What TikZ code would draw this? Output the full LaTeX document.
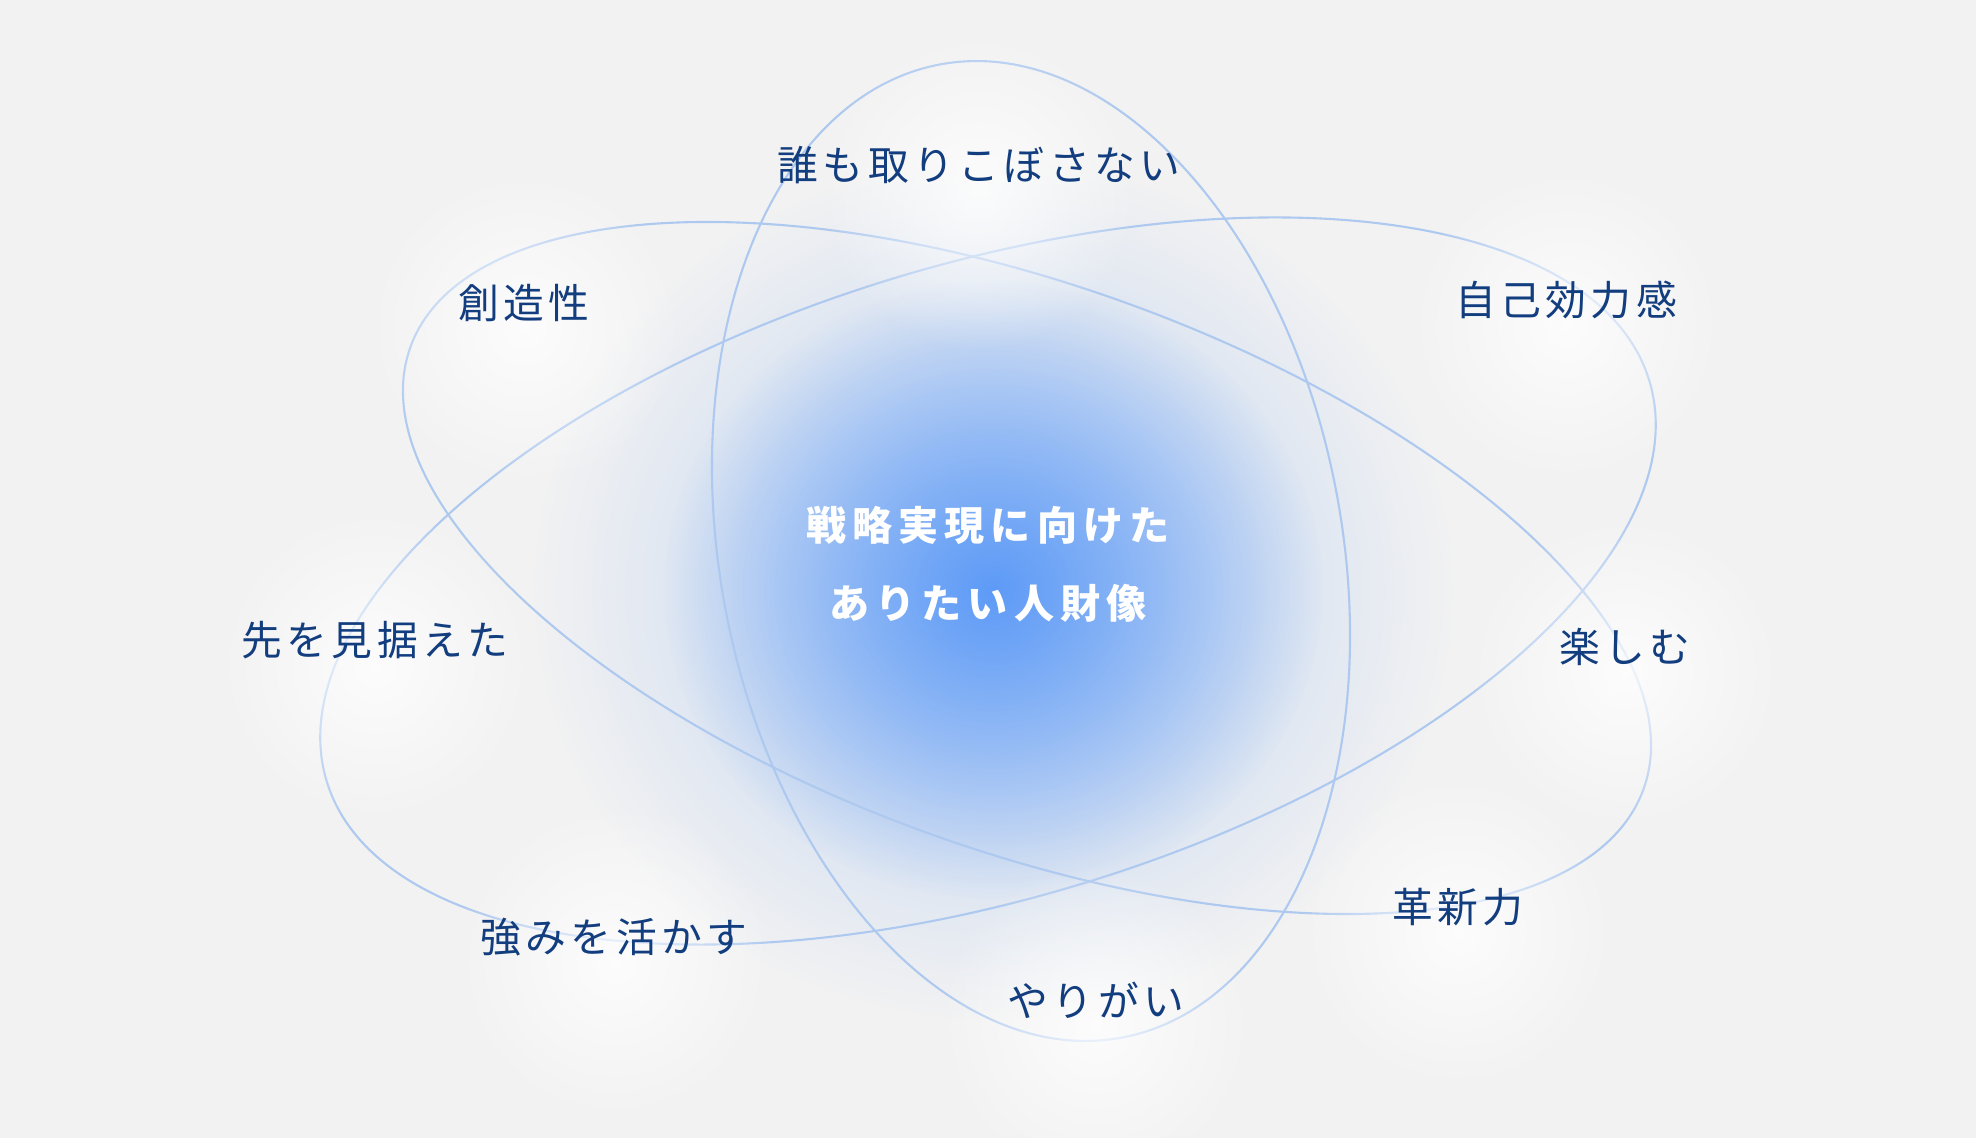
\documentclass[tikz,border=0pt]{standalone}
\usepackage{fontspec}
\usepackage{xcolor}
\usetikzlibrary{fadings}
\newfontfamily\jpfont[LetterSpace=11]{Noto Sans CJK JP}
\newfontfamily\jpcore[LetterSpace=15]{Noto Sans CJK JP}

\definecolor{bggray}{HTML}{F2F2F2}
\definecolor{glowblue}{HTML}{5E9BF7}
\definecolor{orbitblue}{HTML}{AEC9EF}
\definecolor{navy}{HTML}{123D7E}

\tikzfading[name=halofade, inner color=transparent!0, outer color=transparent!100]

\begin{document}
\begin{tikzpicture}
        % 样式:轨道线、标签文字、白色光斑
        \tikzstyle{orbit}=[draw=orbitblue, line width=0.6pt]
        \tikzstyle{word}=[text=navy, inner sep=0pt, font=\jpfont\fontsize{11.6}{14}\selectfont]
        \tikzstyle{halo}=[fill=white, fill opacity=0.8, path fading=halofade]

        % 背景 (1px = 0.01cm)
        \fill[bggray] (0,0) rectangle (19.76,-11.38);
        \useasboundingbox (0,0) rectangle (19.76,-11.38);

        % 中心的蓝色光晕
        \fill[glowblue, opacity=0.4, path fading=halofade] (9.93,-5.9) ellipse (4.6 and 4.3);
        \fill[glowblue, path fading=halofade] (9.93,-5.9) ellipse (3.3 and 3.1);

        % 三个椭圆轨道
        \draw[orbit, rotate around={10.6:(10.31,-5.51)}] (10.31,-5.51) ellipse (3.11 and 4.95);
        \draw[orbit, rotate around={-19.7:(10.27,-5.68)}] (10.27,-5.68) ellipse (6.55 and 2.83);
        \draw[orbit, rotate around={16.85:(9.88,-5.81)}] (9.88,-5.81) ellipse (6.91 and 3.17);

        % 周围的八个关键词 (先画光斑再写字)
        \foreach \n/\x/\y/\t in {dare/9.79/-1.65/誰も取りこぼさない,
                                 sozo/5.24/-3.03/創造性,
                                 jiko/15.66/-3.00/自己効力感,
                                 saki/3.75/-6.40/先を見据えた,
                                 tanoshi/16.25/-6.47/楽しむ,
                                 tsuyomi/6.14/-9.37/強みを活かす,
                                 yarigai/10.96/-10.00/やりがい,
                                 kakushin/14.58/-9.07/革新力} {
            \fill[halo] (\x,\y-0.25) circle (1.6);
            \node[word] (\n) at (\x,\y) {\t};
        }

        % 中心文字
        \node[text=white, inner sep=0pt, align=center,
              font=\jpcore\bfseries\fontsize{11.4}{22.2}\selectfont] (core) at (9.88,-5.64)
              {戦略実現に向けた\\ありたい人財像};
\end{tikzpicture}
\end{document}
